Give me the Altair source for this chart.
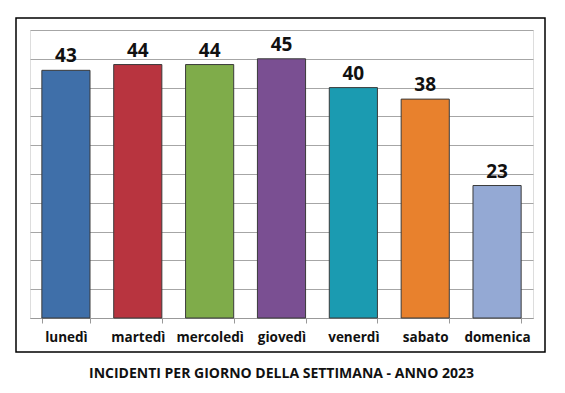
import altair as alt
import pandas as pd

giorni = ["lunedì", "martedì", "mercoledì", "giovedì", "venerdì", "sabato", "domenica"]
incidenti = [43, 44, 44, 45, 40, 38, 23]
colori = ["#3F6FA9", "#B8343F", "#7FAC4A", "#7A4F92", "#1B9BB1", "#E8812D", "#94A9D4"]
titolo = "INCIDENTI PER GIORNO DELLA SETTIMANA - ANNO 2023"
griglia = [0, 5, 10, 15, 20, 25, 30, 35, 40, 45, 50]

df = pd.DataFrame({"giorno": giorni, "incidenti": incidenti})

FONT = "Open Sans"

x_enc = alt.X(
    "giorno:N",
    sort=giorni,
    scale=alt.Scale(paddingInner=0.33, paddingOuter=0.165),
    axis=alt.Axis(
        title=None,
        labelAngle=0,
        labelFont=FONT,
        labelFontSize=13.5,
        labelFontWeight="bold",
        labelColor="#111111",
        labelPadding=7,
        tickBand="extent",
        tickSize=5,
        tickColor="#999999",
        domainColor="#999999",
        grid=False,
    ),
)
y_enc = alt.Y(
    "incidenti:Q",
    scale=alt.Scale(domain=[0, 50], nice=False),
    axis=alt.Axis(
        title=None,
        labels=False,
        ticks=False,
        domain=False,
        grid=True,
        values=griglia,
        gridColor="#A6A6A6",
        gridWidth=1,
    ),
)

bars = alt.Chart(df).mark_bar(stroke="#3A3A3A", strokeWidth=1).encode(
    x=x_enc,
    y=y_enc,
    color=alt.Color("giorno:N", sort=giorni, scale=alt.Scale(domain=giorni, range=colori), legend=None),
)

labels = alt.Chart(df).mark_text(
    font=FONT, fontSize=19, fontWeight="bold", color="#111111", baseline="alphabetic", dy=-8
).encode(
    x=x_enc,
    y=y_enc,
    text="incidenti:Q",
)

frame = alt.Chart(pd.DataFrame({"f": [0]})).mark_rect(
    fillOpacity=0, stroke="black", strokeWidth=1.5, clip=False
).encode(
    x=alt.value(-14), x2=alt.value(515), y=alt.value(-12), y2=alt.value(322)
)

chart = alt.layer(bars, labels, frame).properties(
    width=503,
    height=288,
    padding={"left": 22, "top": 22, "right": 24, "bottom": 70},
    autosize=alt.AutoSizeParams(type="none"),
    title=alt.TitleParams(
        titolo,
        orient="bottom",
        anchor="middle",
        font=FONT,
        fontSize=14,
        fontWeight="bold",
        color="#111111",
        offset=14,
    ),
).configure_view(stroke=None).configure(background="white")

chart.save("out.html", embed_options={"renderer": "svg", "actions": False})
